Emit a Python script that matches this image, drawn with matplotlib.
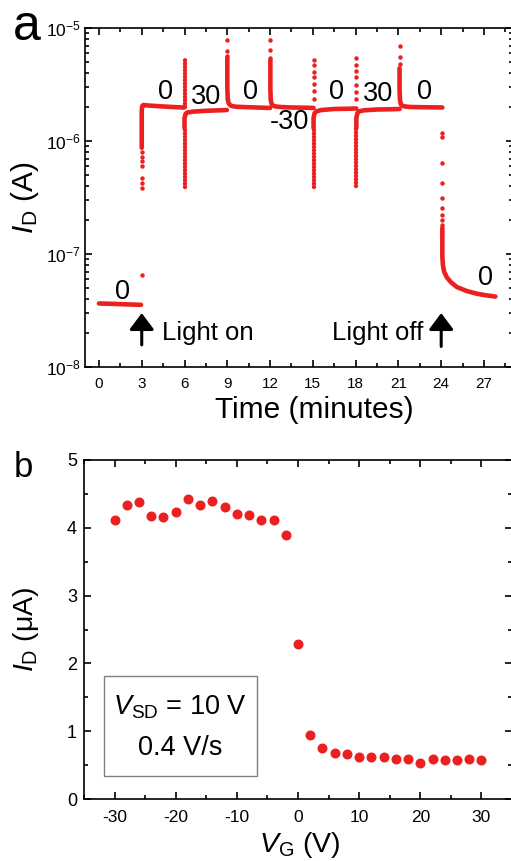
import matplotlib
matplotlib.use("Agg")
import matplotlib.pyplot as plt
from matplotlib.ticker import LogLocator, MultipleLocator, NullFormatter, FixedLocator
from matplotlib.patches import Rectangle

plt.rcParams.update({
    "font.family": ["Liberation Sans", "DejaVu Sans"],
    "mathtext.fontset": "custom",
    "mathtext.rm": "Liberation Sans",
    "mathtext.it": "Liberation Sans:italic",
    "mathtext.sf": "Liberation Sans",
    "mathtext.default": "regular",
    "axes.unicode_minus": False,
    "axes.linewidth": 1.2,
})

RED = "#ec2020"

# ---------------- panel a: drain current vs time ----------------
# continuous parts of the trace (time in minutes, current in A)
dark_t = [0.0, 1.0, 2.0, 2.95]
dark_i = [3.65e-8, 3.62e-8, 3.58e-8, 3.55e-8]
on_t = [3.0, 3.0, 3.03, 3.1, 3.5, 4.5, 5.5, 5.97]
on_i = [8.7e-7, 1.85e-6, 2.03e-6, 2.08e-6, 2.06e-6, 2.02e-6, 1.99e-6, 1.98e-6]
g30a_t = [6.0, 6.0, 6.08, 6.2, 6.6, 7.5, 8.97]
g30a_i = [1.3e-6, 1.6e-6, 1.74e-6, 1.79e-6, 1.82e-6, 1.85e-6, 1.88e-6]
g0b_t = [9.0, 9.0, 9.03, 9.1, 9.25, 9.6, 10.5, 11.5, 12.0]
g0b_i = [5.4e-6, 3.0e-6, 2.35e-6, 2.15e-6, 2.05e-6, 2.01e-6, 1.99e-6, 1.97e-6, 1.96e-6]
gm30_t = [12.02, 12.02, 12.05, 12.12, 12.3, 12.7, 13.5, 14.5, 15.05]
gm30_i = [5.2e-6, 2.9e-6, 2.3e-6, 2.1e-6, 2.03e-6, 2.0e-6, 1.98e-6, 1.97e-6, 1.96e-6]
g0c_t = [15.05, 15.05, 15.12, 15.25, 15.6, 16.5, 17.5, 18.05]
g0c_i = [1.3e-6, 1.6e-6, 1.76e-6, 1.83e-6, 1.88e-6, 1.92e-6, 1.93e-6, 1.94e-6]
g30b_t = [18.05, 18.05, 18.12, 18.25, 18.6, 19.5, 20.5, 21.08]
g30b_i = [1.3e-6, 1.6e-6, 1.76e-6, 1.83e-6, 1.87e-6, 1.9e-6, 1.91e-6, 1.92e-6]
g0d_t = [21.08, 21.08, 21.11, 21.18, 21.35, 21.8, 22.8, 24.08]
g0d_i = [4.4e-6, 2.8e-6, 2.3e-6, 2.1e-6, 2.03e-6, 2.0e-6, 1.99e-6, 1.98e-6]
off_t = [24.08, 24.08, 24.12, 24.2, 24.4, 24.7, 25.1, 25.8, 26.5, 27.2, 27.8]
off_i = [1.7e-7, 9.5e-8, 8.0e-8, 7.0e-8, 6.2e-8, 5.6e-8, 5.1e-8, 4.7e-8, 4.45e-8, 4.3e-8, 4.2e-8]

# isolated samples during the fast transients
pre_t, pre_i = [3.04], [6.5e-8]
rise_t = [3.0] * 7
rise_i = [3.84e-7, 4.26e-7, 4.71e-7, 6.0e-7, 6.6e-7, 7.2e-7, 8.0e-7]
spk9_t = [9.0] * 3
spk9_i = [7.9e-6, 6.25e-6, 5.6e-6]
spk12_t = [12.02] * 3
spk12_i = [7.9e-6, 6.4e-6, 5.45e-6]
spk15_t = [15.05] * 7
spk15_i = [5.26e-6, 4.66e-6, 4.12e-6, 3.65e-6, 3.19e-6, 2.77e-6, 2.35e-6]
spk18_t = [18.05] * 7
spk18_i = [5.4e-6, 4.75e-6, 4.18e-6, 3.65e-6, 3.16e-6, 2.72e-6, 2.33e-6]
spk21_t = [21.08] * 3
spk21_i = [6.9e-6, 5.55e-6, 4.8e-6]
offd_t = [24.08] * 9
offd_i = [1.17e-6, 1.09e-6, 6.35e-7, 4.23e-7, 3.11e-7, 2.54e-7, 2.21e-7, 2.0e-7, 1.81e-7]

# densely sampled vertical runs at the gate switches: (time, low, high)
col_t = [6.0, 6.0, 15.05, 18.05]
col_lo = [2.0e-6, 3.95e-7, 3.95e-7, 4.0e-7]
col_hi = [5.4e-6, 1.3e-6, 1.3e-6, 1.3e-6]

# gate-voltage annotations: (time, current, text)
gate_t = [1.68, 4.66, 7.54, 10.6, 13.36, 16.66, 19.6, 22.83, 27.14]
gate_i = [4.65e-8, 2.69e-6, 2.45e-6, 2.69e-6, 1.47e-6, 2.69e-6, 2.6e-6, 2.69e-6, 6.1e-8]
gate_txt = ["0", "0", "30", "0", "-30", "0", "30", "0", "0"]

# ---------------- panel b: drain current vs gate voltage ----------------
vg = [-30, -28, -26, -24, -22, -20, -18, -16, -14, -12, -10, -8, -6, -4, -2, 0,
      2, 4, 6, 8, 10, 12, 14, 16, 18, 20, 22, 24, 26, 28, 30]
id_ua = [4.12, 4.34, 4.38, 4.18, 4.16, 4.23, 4.43, 4.33, 4.39, 4.31, 4.21, 4.19,
         4.11, 4.11, 3.89, 2.29, 0.94, 0.75, 0.68, 0.66, 0.62, 0.62, 0.62, 0.59,
         0.59, 0.53, 0.59, 0.57, 0.57, 0.59, 0.58]

W, H = 511, 861
fig = plt.figure(figsize=(W / 100, H / 100), dpi=100)
axA = fig.add_axes([84.7 / W, 1 - 367 / H, 427.8 / W, 339 / H])
axB = fig.add_axes([84 / W, 1 - 799 / H, 428 / W, 339 / H])

# ---- panel a drawing ----
lw_trace = 3.3
for tt, ii in [(dark_t, dark_i), (on_t, on_i), (g30a_t, g30a_i), (g0b_t, g0b_i),
               (gm30_t, gm30_i), (g0c_t, g0c_i), (g30b_t, g30b_i), (g0d_t, g0d_i),
               (off_t, off_i)]:
    axA.plot(tt, ii, color=RED, lw=lw_trace, solid_capstyle="round",
             solid_joinstyle="round")
for t, lo, hi in zip(col_t, col_lo, col_hi):
    axA.plot([t, t], [lo, hi], color=RED, lw=3.2, linestyle=(0, (0.001, 0.75)),
             dash_capstyle="round")
for tt, ii in [(pre_t, pre_i), (rise_t, rise_i), (spk9_t, spk9_i), (spk12_t, spk12_i),
               (spk15_t, spk15_i), (spk18_t, spk18_i), (spk21_t, spk21_i),
               (offd_t, offd_i)]:
    axA.plot(tt, ii, "o", color=RED, ms=3.2, mew=0)

axA.set_yscale("log")
axA.set_xlim(-1, 29)
axA.set_ylim(1e-8, 1e-5)
axA.xaxis.set_major_locator(FixedLocator([0, 3, 6, 9, 12, 15, 18, 21, 24, 27]))
axA.xaxis.set_minor_locator(MultipleLocator(1.5))
axA.yaxis.set_major_locator(LogLocator(base=10, numticks=10))
axA.yaxis.set_minor_locator(LogLocator(base=10, subs=range(2, 10), numticks=20))
axA.yaxis.set_minor_formatter(NullFormatter())
axA.tick_params(which="both", direction="in", top=True, right=True, width=1.2)
axA.tick_params(which="major", length=5)
axA.tick_params(which="minor", length=2.8)
axA.tick_params(axis="x", which="major", pad=7, labelsize=11)
axA.tick_params(axis="y", which="major", pad=3, labelsize=12.5)

for t, i, s in zip(gate_t, gate_i, gate_txt):
    axA.text(t, i, s, fontsize=19.5, ha="center", va="center")

axA.annotate("", xy=(3.0, 3.0e-8), xytext=(3.0, 1.57e-8),
             arrowprops=dict(arrowstyle="-|>,head_length=10,head_width=7.5",
                             mutation_scale=1, lw=2.2, color="black",
                             shrinkA=0, shrinkB=0))
axA.annotate("", xy=(24.0, 3.0e-8), xytext=(24.0, 1.52e-8),
             arrowprops=dict(arrowstyle="-|>,head_length=10,head_width=7.5",
                             mutation_scale=1, lw=2.2, color="black",
                             shrinkA=0, shrinkB=0))
axA.text(4.42, 2.0e-8, "Light on", fontsize=18.5, ha="left", va="center")
axA.text(22.72, 2.0e-8, "Light off", fontsize=18.5, ha="right", va="center")

axA.set_xlabel("Time (minutes)", fontsize=21.5)
axA.xaxis.set_label_coords(0.536, -0.127)
axA.xaxis.label.set_va("center")
axA.set_ylabel(r"$\mathit{I}_{\mathrm{D}}$ (A)", fontsize=21.5)
axA.yaxis.set_label_coords(-0.14, 0.5)
axA.yaxis.label.set_va("center")

# ---- panel b drawing ----
axB.plot(vg, id_ua, "o", color=RED, ms=7.2, mew=0)
axB.set_xlim(-35, 35)
axB.set_ylim(0, 5)
axB.xaxis.set_major_locator(MultipleLocator(10))
axB.xaxis.set_minor_locator(MultipleLocator(5))
axB.yaxis.set_major_locator(MultipleLocator(1))
axB.yaxis.set_minor_locator(MultipleLocator(0.5))
axB.tick_params(which="both", direction="in", top=True, right=True, width=1.2)
axB.tick_params(which="major", length=5)
axB.tick_params(which="minor", length=2.8)
axB.tick_params(axis="x", which="major", pad=8, labelsize=12.5)
axB.tick_params(axis="y", which="major", pad=5, labelsize=13)

axB.add_patch(Rectangle((-31.7, 0.34), 25.0, 1.47, fill=False,
                        edgecolor="#7f7f7f", lw=1.0))
axB.text(-19.3, 1.36, r"$\mathit{V}_{\mathrm{SD}}$ = 10 V", fontsize=19.5,
         ha="center", va="center")
axB.text(-19.3, 0.75, "0.4 V/s", fontsize=19.5, ha="center", va="center")

axB.set_xlabel(r"$\mathit{V}_{\mathrm{G}}$ (V)", fontsize=20.5)
axB.xaxis.set_label_coords(0.503, -0.136)
axB.xaxis.label.set_va("center")
axB.set_ylabel(r"$\mathit{I}_{\mathrm{D}}$ ($\mu$A)", fontsize=20.5)
axB.yaxis.set_label_coords(-0.135, 0.5)
axB.yaxis.label.set_va("center")

fig.text(13 / W, 1 - 40 / H, "a", fontsize=36, ha="left", va="baseline")
fig.text(14 / W, 1 - 477 / H, "b", fontsize=25, ha="left", va="baseline")

fig.savefig("out.png", dpi=100)
